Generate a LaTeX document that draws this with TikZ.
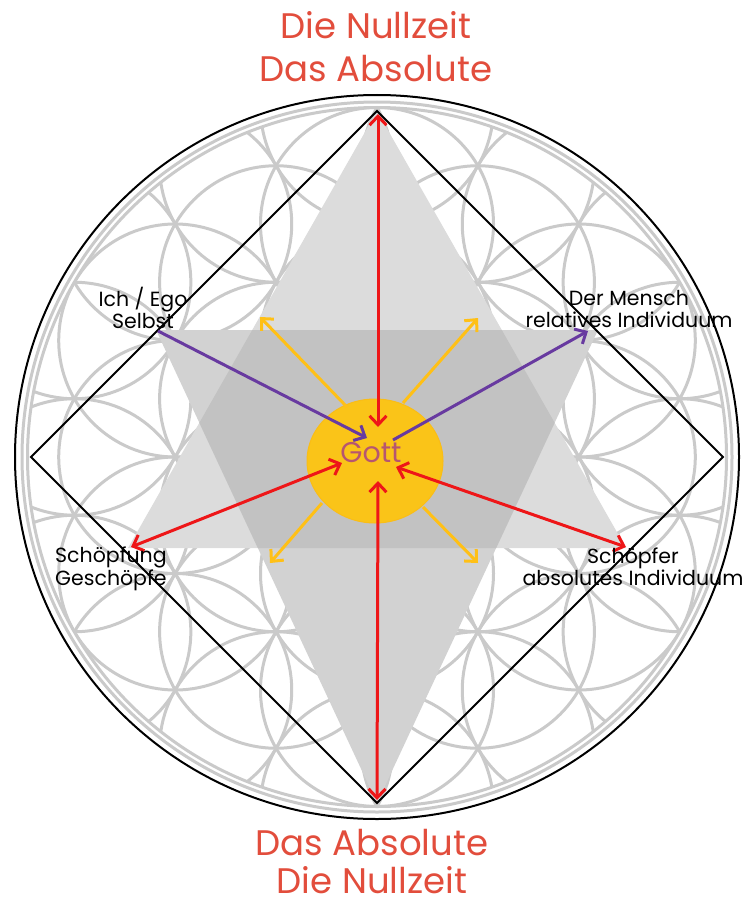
\documentclass[tikz,border=0pt]{standalone}
\usepackage{fontspec}
\setmainfont{Poppins}
\usepackage{xcolor}
\usetikzlibrary{arrows.meta,shapes.geometric}
\definecolor{titlered}{RGB}{226,77,60}
\definecolor{arrowred}{RGB}{238,22,24}
\definecolor{egoviolet}{RGB}{104,58,160}
\definecolor{rayamber}{RGB}{255,192,22}
\definecolor{gottgold}{RGB}{250,196,24}
\definecolor{gotttext}{RGB}{182,86,112}
\definecolor{flowergray}{RGB}{202,202,202}
\definecolor{triup}{RGB}{220,220,220}
\definecolor{tridown}{RGB}{210,210,210}
\definecolor{trimid}{RGB}{194,194,194}

\begin{document}
\begin{tikzpicture}[x=1pt, y=-1pt,
  petal/.style={draw=flowergray, line width=3pt},
  frame/.style={draw=black, line width=2pt},
  title/.style={text=titlered, align=center, inner sep=0pt, anchor=base},
  lbl/.style={text=black, align=center, inner sep=0pt, anchor=base, font=\fontsize{20.5}{21.5}\selectfont},
  gottdisc/.style={ellipse, fill=gottgold, draw=gottgold!90!orange, line width=1pt,
                   minimum width=136pt, minimum height=124pt, inner sep=0pt},
  redarrow/.style={{Straight Barb[length=9pt,width=17pt]}-{Straight Barb[length=9pt,width=17pt]},
                   draw=arrowred, line width=3pt},
  egoarrow/.style={-{Straight Barb[length=9pt,width=17pt]}, draw=egoviolet, line width=3pt},
  rayarrow/.style={-{Straight Barb[length=9pt,width=17pt]}, draw=rayamber, line width=3pt},
]
  \useasboundingbox (0,0) rectangle (743,904);

  % ---- Flower of life ----
  \begin{scope}
    \clip (377,457) circle (349.5);
    \foreach \i in {-3,...,3} {
      \foreach \j in {-3,...,3} {
        \pgfmathtruncatemacro\hexd{max(abs(\i),abs(\j),abs(\i+\j))}
        \ifnum\hexd<4
          \draw[petal] ({377+\j*116.5*0.866},{457+(\i+0.5*\j)*116.5}) circle (116.5);
        \fi
      }
    }
  \end{scope}
  \draw[petal] (377,457) circle (349.5);
  \draw[petal] (377,457) circle (355);
  \draw[frame] (377,457) circle (362);

  % ---- Star ----
  \coordinate (upA) at (377,111);
  \coordinate (upB) at (128,548);
  \coordinate (upC) at (626,548);
  \coordinate (dnA) at (377,803);
  \coordinate (dnB) at (156,330);
  \coordinate (dnC) at (598,330);
  \fill[triup] (upA) -- (upB) -- (upC) -- cycle;
  \fill[tridown] (dnA) -- (dnB) -- (dnC) -- cycle;
  \begin{scope}
    \clip (upA) -- (upB) -- (upC) -- cycle;
    \fill[trimid] (dnA) -- (dnB) -- (dnC) -- cycle;
  \end{scope}

  % ---- Square ----
  \coordinate (eastV) at (723,457);
  \coordinate (westV) at (31,457);
  \draw[frame, line join=miter] (upA) -- (eastV) -- (dnA) -- (westV) -- cycle;

  % ---- Gott ----
  \node[gottdisc] (gott) at (375,461) {};
  \node[text=gotttext, inner sep=0pt, anchor=base, font=\fontsize{28.5}{28.5}\selectfont] (gottlbl) at (371,462) {Gott};

  % ---- Arrow ends ----
  \coordinate (zenith) at (378,114);
  \coordinate (nadir) at (377,800);
  \coordinate (schoepfung) at (131,547);
  \coordinate (schoepfer) at (626,547);
  \coordinate (selbst) at (158,331);
  \coordinate (mensch) at (588,331);
  \coordinate (gN) at (378,427);
  \coordinate (gS) at (378,481);
  \coordinate (gW) at (342,463);
  \coordinate (gE) at (396,467);
  \coordinate (gNW) at (367,438);
  \coordinate (gNE) at (393,440);
  \coordinate (rNWs) at (347,407);
  \coordinate (rNEs) at (403,403);
  \coordinate (rSWs) at (322,503);
  \coordinate (rSEs) at (423,507);
  \coordinate (rNW) at (260,317);
  \coordinate (rNE) at (478,318);
  \coordinate (rSW) at (270,563);
  \coordinate (rSE) at (478,563);

  % ---- Arrows ----
  \draw[rayarrow] (rNWs) -- (rNW);
  \draw[rayarrow] (rNEs) -- (rNE);
  \draw[rayarrow] (rSWs) -- (rSW);
  \draw[rayarrow] (rSEs) -- (rSE);
  \draw[redarrow] (zenith) -- (gN);
  \draw[redarrow] (nadir) -- (gS);
  \draw[redarrow] (schoepfung) -- (gW);
  \draw[redarrow] (schoepfer) -- (gE);
  \draw[egoarrow] (selbst) -- (gNW);
  \draw[egoarrow] (gNE) -- (mensch);

  % ---- Labels ----
  \node[title, font=\fontsize{35.5}{43}\selectfont] (topttl) at (376,82) {Die Nullzeit\\Das Absolute};
  \node[title, font=\fontsize{35.5}{38}\selectfont] (botttl) at (372,893) {Das Absolute\\Die Nullzeit};
  \node[lbl] (ego) at (143,328) {Ich / Ego\\Selbst};
  \node[lbl] (menschlbl) at (629,327) {Der Mensch\\relatives Individuum};
  \node[lbl, align=left, anchor=base west, font=\fontsize{20.5}{20.5}\selectfont] (schoepfunglbl) at (55,585) {Schöpfung\\Geschöpfe};
  \node[lbl, font=\fontsize{20.5}{20.5}\selectfont] (schoepferlbl) at (633,585) {Schöpfer\\absolutes Individuum};
\end{tikzpicture}
\end{document}
